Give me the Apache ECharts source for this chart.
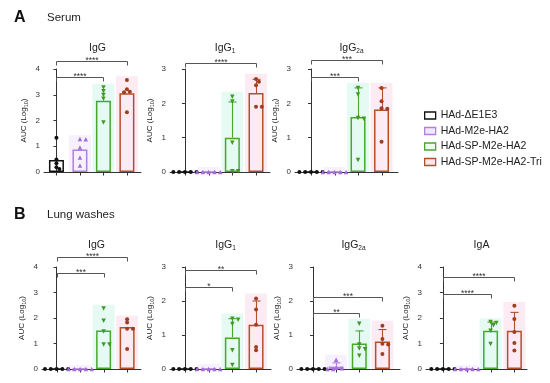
<!DOCTYPE html>
<html><head><meta charset="utf-8">
<script src="https://cdn.jsdelivr.net/npm/echarts@6/dist/echarts.min.js"></script>
<style>html,body{margin:0;padding:0;background:#fff}#c{width:550px;height:383px}</style>
</head><body><div id="c"></div>
<script>
// ---------- data ----------
const groups = ['HAd-ΔE1E3', 'HAd-M2e-HA2', 'HAd-SP-M2e-HA2', 'HAd-SP-M2e-HA2-Tri'];
const sectionLetters = ['A', 'B'];
const sectionNames = ['Serum', 'Lung washes'];
const panelTitles = ['IgG', 'IgG{s|1}', 'IgG{s|2a}', 'IgG', 'IgG{s|1}', 'IgG{s|2a}', 'IgA'];
const yAxisName = 'AUC (Log{s|10})';
const yMaxTicks = [4, 3, 3, 4, 3, 3, 4];

// Serum IgG
const serumIgG_points = [[1.33, 0.49, 0.34, 0.18, 0.12], [1.28, 1.27, 0.95, 0.56, 0.25], [3.28, 3.14, 2.99, 2.84, 1.92], [3.57, 3.21, 3.12, 3.10, 2.32]];
const serumIgG_bars = [0.47, 0.87, 2.77, 3.06];
const serumIgG_sd = [null, null, null, null];
const serumIgG_sig = [[0, 3, '****'], [0, 2, '****']];
// Serum IgG1
const serumIgG1_points = [[0, 0, 0, 0, 0], [0, 0, 0, 0, 0], [2.19, 2.05, 0.85, 0.02, 0.02], [2.71, 2.63, 2.53, 1.90, 1.90]];
const serumIgG1_bars = [0, 0, 1.0, 2.3];
const serumIgG1_sd = [null, null, 1.04, 0.40];
const serumIgG1_sig = [[0, 3, '****']];
// Serum IgG2a
const serumIgG2a_points = [[0, 0, 0, 0, 0], [0, 0, 0, 0, 0], [2.45, 2.26, 1.57, 1.55, 0.35], [2.45, 2.06, 1.86, 1.84, 0.88]];
const serumIgG2a_bars = [0, 0, 1.6, 1.82];
const serumIgG2a_sd = [null, null, 0.85, 0.63];
const serumIgG2a_sig = [[0, 3, '***'], [0, 2, '***']];
// Lung IgG
const lungIgG_points = [[0, 0, 0, 0, 0], [0, 0, 0, 0, 0], [2.37, 1.89, 1.47, 0.96, 0.96], [1.95, 1.82, 1.58, 1.58, 0.78]];
const lungIgG_bars = [0, 0, 1.51, 1.65];
const lungIgG_sd = [null, null, null, null];
const lungIgG_sig = [[0, 3, '****'], [0, 2, '***']];
// Lung IgG1
const lungIgG1_points = [[0, 0, 0, 0, 0], [0, 0, 0, 0, 0], [1.48, 1.45, 1.32, 0.55, 0.12], [2.07, 1.75, 1.30, 0.65, 0.55]];
const lungIgG1_bars = [0, 0, 0.93, 1.3];
const lungIgG1_sd = [null, null, 0.55, 0.70];
const lungIgG1_sig = [[0, 3, '**'], [0, 2, '*']];
// Lung IgG2a
const lungIgG2a_points = [[0, 0, 0, 0, 0], [0.27, 0.04, 0.02, 0, 0], [1.33, 0.72, 0.60, 0.58, 0.39], [1.27, 0.88, 0.74, 0.72, 0.44]];
const lungIgG2a_bars = [0, 0.07, 0.75, 0.81];
const lungIgG2a_sd = [null, 0.11, 0.37, 0.35];
const lungIgG2a_sig = [[0, 3, '***'], [0, 2, '**']];
// Lung IgA
const lungIgA_points = [[0, 0, 0, 0, 0], [0, 0, 0, 0, 0], [1.84, 1.80, 1.72, 1.50, 0.98], [2.48, 1.96, 1.45, 1.02, 0.73]];
const lungIgA_bars = [0, 0, 1.5, 1.5];
const lungIgA_sd = [null, null, 0.34, 0.72];
const lungIgA_sig = [[0, 3, '****'], [0, 2, '****']];

// ---------- styles / layout ----------
const FONT = 'Liberation Sans, Arial, Helvetica, sans-serif';
const groupColors = ['#111111', '#b07fe0', '#48a82c', '#b3502c'];
const pointColors = ['#111111', '#a56cd9', '#3f9a25', '#9e3e22'];
const shadeColors = [null, '#f7f0fd', '#e6faf4', '#fdebf3'];
const legendFill = ['#ffffff', '#f2e8fb', '#f1fbf1', '#fbe6ee'];
const symbols = ['circle', 'triangle', 'triangle', 'circle'];
const symbolRot = [0, 0, 180, 0];
const symbolSizes = [4, 4.5, 4.5, 4];

const panels = [
  {pts: serumIgG_points, bars: serumIgG_bars, sd: serumIgG_sd, sig: serumIgG_sig},
  {pts: serumIgG1_points, bars: serumIgG1_bars, sd: serumIgG1_sd, sig: serumIgG1_sig},
  {pts: serumIgG2a_points, bars: serumIgG2a_bars, sd: serumIgG2a_sd, sig: serumIgG2a_sig},
  {pts: lungIgG_points, bars: lungIgG_bars, sd: lungIgG_sd, sig: lungIgG_sig},
  {pts: lungIgG1_points, bars: lungIgG1_bars, sd: lungIgG1_sd, sig: lungIgG1_sig},
  {pts: lungIgG2a_points, bars: lungIgG2a_bars, sd: lungIgG2a_sd, sig: lungIgG2a_sig},
  {pts: lungIgA_points, bars: lungIgA_bars, sd: lungIgA_sd, sig: lungIgA_sig}
];
const layouts = [
  {left: 44, top: 69, width: 97, height: 103, xMin: -0.53, xMax: 3.6, levels: [4.31, 3.69], titleTop: 36},
  {left: 170, top: 69, width: 100, height: 103, xMin: -0.63, xMax: 3.59, levels: [3.17], titleTop: 36},
  {left: 295, top: 69, width: 103, height: 103, xMin: -0.68, xMax: 3.70, levels: [3.26, 2.77], titleTop: 36},
  {left: 42, top: 267, width: 99, height: 102, xMin: -0.62, xMax: 3.59, levels: [4.39, 3.76], titleTop: 233},
  {left: 170, top: 267, width: 101, height: 102, xMin: -0.63, xMax: 3.63, levels: [2.91, 2.41], titleTop: 233},
  {left: 297, top: 267, width: 103, height: 102, xMin: -0.69, xMax: 3.76, levels: [2.12, 1.65], titleTop: 233},
  {left: 426, top: 267, width: 101, height: 102, xMin: -0.71, xMax: 3.53, levels: [3.61, 2.94], titleTop: 233}
];

// place overlapping points side by side (GraphPad-like scatter layout)
function spread(values, pxX, pxY, step, minDist) {
  const placed = [], out = [];
  const order = values.map((v, k) => k).sort((a, b) => values[b] - values[a]);
  order.forEach(k => {
    const py = values[k] * pxY;
    for (const c of [0, 1, -1, 2, -2, 3, -3, 4, -4]) {
      const px = c * step;
      if (placed.every(q => Math.hypot(q[0] - px, q[1] - py) >= minDist)) {
        placed.push([px, py]); out[k] = px / pxX; break;
      }
    }
  });
  return out;
}

const subRich = {s: {fontSize: 6.5, lineHeight: 6, verticalAlign: 'bottom', fontFamily: FONT, color: '#222'}};
const grids = [], xAxes = [], yAxes = [], series = [], titles = [];

titles.push({text: sectionLetters[0], left: 9, top: 5, textStyle: {fontSize: 16, fontWeight: 'bold', color: '#111', fontFamily: FONT}});
titles.push({text: sectionNames[0], left: 42, top: 7, textStyle: {fontSize: 11.5, fontWeight: 'normal', color: '#222', fontFamily: FONT}});
titles.push({text: sectionLetters[1], left: 9, top: 202, textStyle: {fontSize: 16, fontWeight: 'bold', color: '#111', fontFamily: FONT}});
titles.push({text: sectionNames[1], left: 42, top: 204, textStyle: {fontSize: 11.5, fontWeight: 'normal', color: '#222', fontFamily: FONT}});

panels.forEach((pd, p) => {
  const L = layouts[p];
  const yMax = yMaxTicks[p];
  grids.push({left: L.left, top: L.top, width: L.width, height: L.height, containLabel: false, outerBoundsMode: 'none'});
  xAxes.push({type: 'value', gridIndex: p, min: L.xMin, max: L.xMax,
    axisLine: {show: true, onZero: false, lineStyle: {color: '#333', width: 1}},
    axisTick: {show: false}, axisLabel: {show: false}, splitLine: {show: false}});
  yAxes.push({type: 'value', gridIndex: p, min: 0, max: yMax, interval: 1,
    name: yAxisName, nameLocation: 'middle', nameGap: 15,
    nameTextStyle: {fontSize: 8, lineHeight: 10, color: '#222', fontFamily: FONT, rich: {s: {fontSize: 5.5, lineHeight: 5, verticalAlign: 'bottom', fontFamily: FONT, color: '#222'}}},
    axisLine: {show: true, lineStyle: {color: '#333', width: 1}},
    axisTick: {show: true, length: 3, lineStyle: {color: '#333'}},
    axisLabel: {fontSize: 8, color: '#333', margin: 4, fontFamily: FONT},
    splitLine: {show: false}});
  titles.push({text: panelTitles[p], left: L.left + L.width / 2, top: L.titleTop, textAlign: 'center',
    textStyle: {fontSize: 10.5, fontWeight: 'normal', color: '#222', fontFamily: FONT, lineHeight: 14, rich: subRich}});

  const pxX = L.width / (L.xMax - L.xMin), pxY = L.height / yMax;

  // pale background behind bars
  series.push({type: 'custom', xAxisIndex: p, yAxisIndex: p, z: 1, silent: true, clip: false,
    data: groups.map((g, i) => [i, Math.max(...pd.pts[i], pd.bars[i] + (pd.sd[i] || 0)) + 0.15]),
    encode: {x: 0, y: 1},
    renderItem: (params, api) => {
      const i = api.value(0);
      if (!shadeColors[i]) return null;
      const t = api.coord([i, api.value(1)]), b = api.coord([i, 0]);
      return {type: 'rect', shape: {x: t[0] - 11, y: t[1], width: 22, height: b[1] - t[1]}, style: {fill: shadeColors[i]}};
    }});

  // bars
  groups.forEach((g, i) => {
    series.push({type: 'bar', name: g, xAxisIndex: p, yAxisIndex: p, z: 2, barWidth: 15, barGap: '-100%',
      data: [[i, pd.bars[i]]],
      itemStyle: {color: 'rgba(255,255,255,0)', borderColor: groupColors[i], borderWidth: 1.5}});
  });

  // error bars + x ticks
  series.push({type: 'custom', xAxisIndex: p, yAxisIndex: p, z: 3, silent: true, clip: false,
    data: groups.map((g, i) => [i, pd.bars[i], pd.sd[i] || 0]),
    encode: {x: 0, y: 1},
    renderItem: (params, api) => {
      const i = api.value(0), m = api.value(1), s = api.value(2);
      const base = api.coord([i, 0]);
      const bx = Math.round(base[0]) + 0.5;
      const ch = [{type: 'line', shape: {x1: bx, y1: base[1], x2: bx, y2: base[1] + 3.5}, style: {stroke: '#333', lineWidth: 1}}];
      if (s > 0) {
        const a = api.coord([i, m]), b = api.coord([i, m + s]);
        ch.push({type: 'line', shape: {x1: bx, y1: a[1], x2: bx, y2: b[1]}, style: {stroke: groupColors[i], lineWidth: 1.1}});
        ch.push({type: 'line', shape: {x1: bx - 4, y1: b[1], x2: bx + 4, y2: b[1]}, style: {stroke: groupColors[i], lineWidth: 1.1}});
      }
      return {type: 'group', children: ch};
    }});

  // individual points
  groups.forEach((g, i) => {
    const offs = spread(pd.pts[i], pxX, pxY, 2.9, 3.2);
    series.push({type: 'scatter', name: g + ' points', xAxisIndex: p, yAxisIndex: p, z: 4,
      symbol: symbols[i], symbolRotate: symbolRot[i], symbolSize: symbolSizes[i],
      itemStyle: {color: pointColors[i], opacity: 1},
      data: pd.pts[i].map((v, k) => [i + offs[k], v])});
  });

  // significance brackets
  series.push({type: 'custom', xAxisIndex: p, yAxisIndex: p, z: 5, silent: true, clip: false,
    data: pd.sig.map((s, k) => [s[0], s[1], L.levels[k], k]),
    encode: {x: [0, 1], y: 2},
    renderItem: (params, api) => {
      const k = api.value(3), lv = api.value(2);
      const a = api.coord([api.value(0), lv]), b = api.coord([api.value(1), lv]);
      const y = Math.round(a[1]) + 0.5, x1 = Math.round(a[0]) + 0.5, x2 = Math.round(b[0]) + 0.5;
      return {type: 'group', children: [
        {type: 'polyline', shape: {points: [[x1, y + 4], [x1, y], [x2, y], [x2, y + 4]]}, style: {stroke: '#555', lineWidth: 1, fill: null}},
        {type: 'text', x: (x1 + x2) / 2, y: y - 1, style: {text: pd.sig[k][2], fontSize: 8.5, fill: '#333', align: 'center', verticalAlign: 'middle', fontFamily: FONT}}
      ]};
    }});
});

const chart = echarts.init(document.getElementById('c'), null, {renderer: 'canvas'});
chart.setOption({
  animation: false,
  backgroundColor: '#ffffff',
  textStyle: {fontFamily: FONT},
  title: titles,
  legend: {orient: 'vertical', left: 419, top: 105, itemWidth: 11, itemHeight: 7, itemGap: 4.5, selectedMode: false,
    textStyle: {fontSize: 10.5, color: '#222', fontFamily: FONT},
    data: groups.map((g, i) => ({name: g, icon: 'rect', itemStyle: {color: legendFill[i], borderColor: groupColors[i], borderWidth: 1.3}}))},
  grid: grids, xAxis: xAxes, yAxis: yAxes, series: series
});
</script></body></html>
